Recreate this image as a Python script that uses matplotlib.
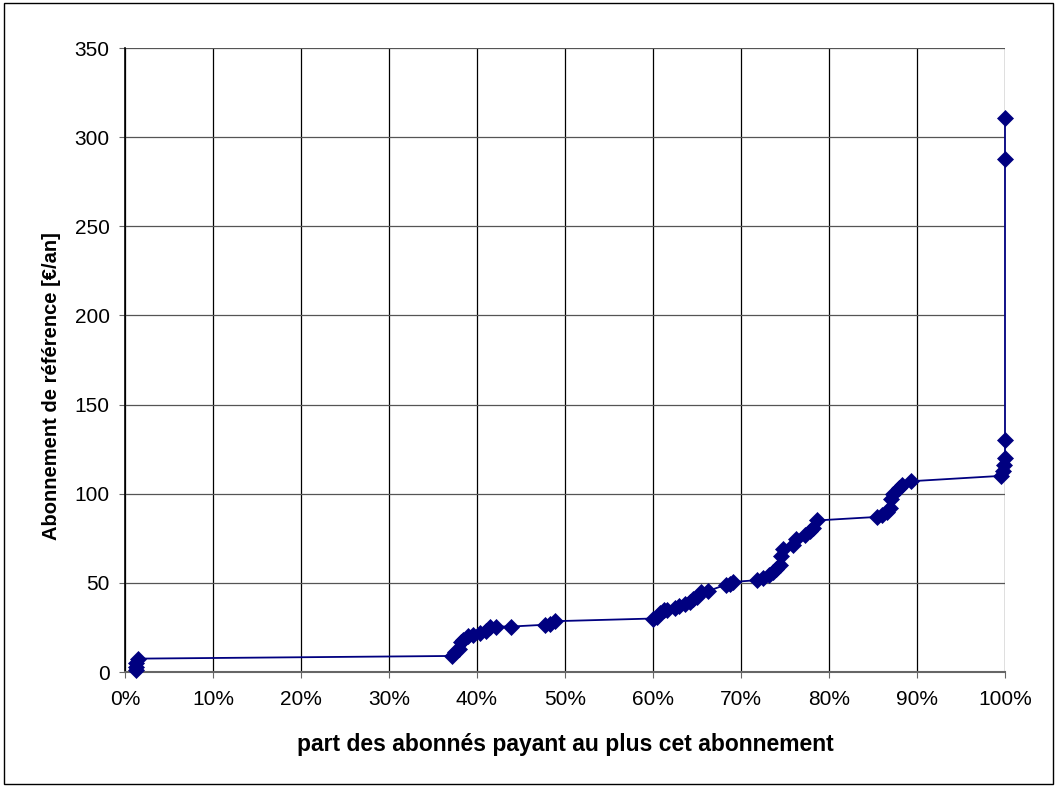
import matplotlib
matplotlib.use("Agg")
import matplotlib.pyplot as plt
from matplotlib.ticker import FuncFormatter
from matplotlib.patches import Rectangle

share_pct = [1.2, 1.2, 1.3, 1.5,
             37.2, 37.5, 37.9, 38.2, 38.4, 39.0, 39.5, 40.3, 41.0, 41.5, 42.2, 43.9, 47.7, 48.3, 48.9,
             60.0, 60.4, 60.8, 61.2, 61.6, 62.5, 63.0, 63.6, 64.2, 64.6, 65.0, 65.5, 66.3, 68.3, 68.8, 69.1,
             71.8, 72.5, 73.2, 73.6, 74.0, 74.4, 74.6, 74.8, 75.9, 76.3, 77.3, 77.8, 78.2, 78.6,
             85.5, 86.0, 86.6, 86.9, 87.1, 87.3, 87.9, 88.3, 89.3,
             99.5, 99.8, 99.9, 100, 100, 100, 100]
abonnement = [1, 3, 5, 7.5,
              9, 11, 13, 17, 18, 20, 21, 22, 23, 25, 25.5, 25.5, 26.5, 27, 28.5,
              30, 31, 33, 34.5, 35, 36, 37, 38, 39, 41, 42, 45, 45.5, 49, 49.5, 50.5,
              51.5, 53, 54.5, 56, 58, 60, 65, 69, 71, 74.5, 77, 79, 81, 85,
              87, 88, 90, 92, 97, 100, 103, 105, 107,
              110, 113, 116, 120, 130, 288, 311]
x_ticks = list(range(0, 101, 10))
y_ticks = list(range(0, 351, 50))

plt.rcParams['font.family'] = ['Liberation Sans', 'DejaVu Sans']

fig = plt.figure(figsize=(10.58, 7.87), dpi=100)
ax = fig.add_axes([125/1058, 1-672/787, 880/1058, 624/787])

ax.plot(share_pct, abonnement, color='#000080', lw=1.3, marker='D', ms=8.5, mew=0.5,
        mfc='#000080', mec='#000080', zorder=3, clip_on=False)

ax.set_xlim(0, 100)
ax.set_ylim(0, 350)
ax.set_xticks(x_ticks)
ax.set_yticks(y_ticks)
ax.xaxis.set_major_formatter(FuncFormatter(lambda v, p: f"{int(v)}%"))
ax.xaxis.grid(True, color='black', lw=0.9)
ax.yaxis.grid(True, color='#555555', lw=0.9)
ax.set_axisbelow(True)
for s in ['top', 'right']:
    ax.spines[s].set_visible(False)
ax.spines['left'].set_color('black')
ax.spines['left'].set_linewidth(1.2)
ax.spines['bottom'].set_color('#666666')
ax.spines['bottom'].set_linewidth(1.5)
ax.tick_params(axis='both', direction='out', length=4, color='#666666', labelsize=15)
ax.tick_params(axis='x', pad=9)
ax.tick_params(axis='y', pad=7)
ax.set_xlabel("part des abonnés payant au plus cet abonnement", fontsize=16.5, fontweight='bold')
ax.set_ylabel("Abonnement de référence [€/an]", fontsize=14.5, fontweight='bold')
ax.xaxis.set_label_coords(0.5, -(745 - 672) / 624, transform=ax.transAxes)
ax.xaxis.label.set_va('center')
ax.yaxis.set_label_coords(-(125 - 52) / 880, (672 - 386) / 624, transform=ax.transAxes)
ax.yaxis.label.set_va('center')

fig.patches.append(Rectangle((4/1058, 3/787), 1049/1058, 781/787, transform=fig.transFigure,
                             fill=False, edgecolor='black', lw=1))

fig.savefig("out.png", dpi=100)
